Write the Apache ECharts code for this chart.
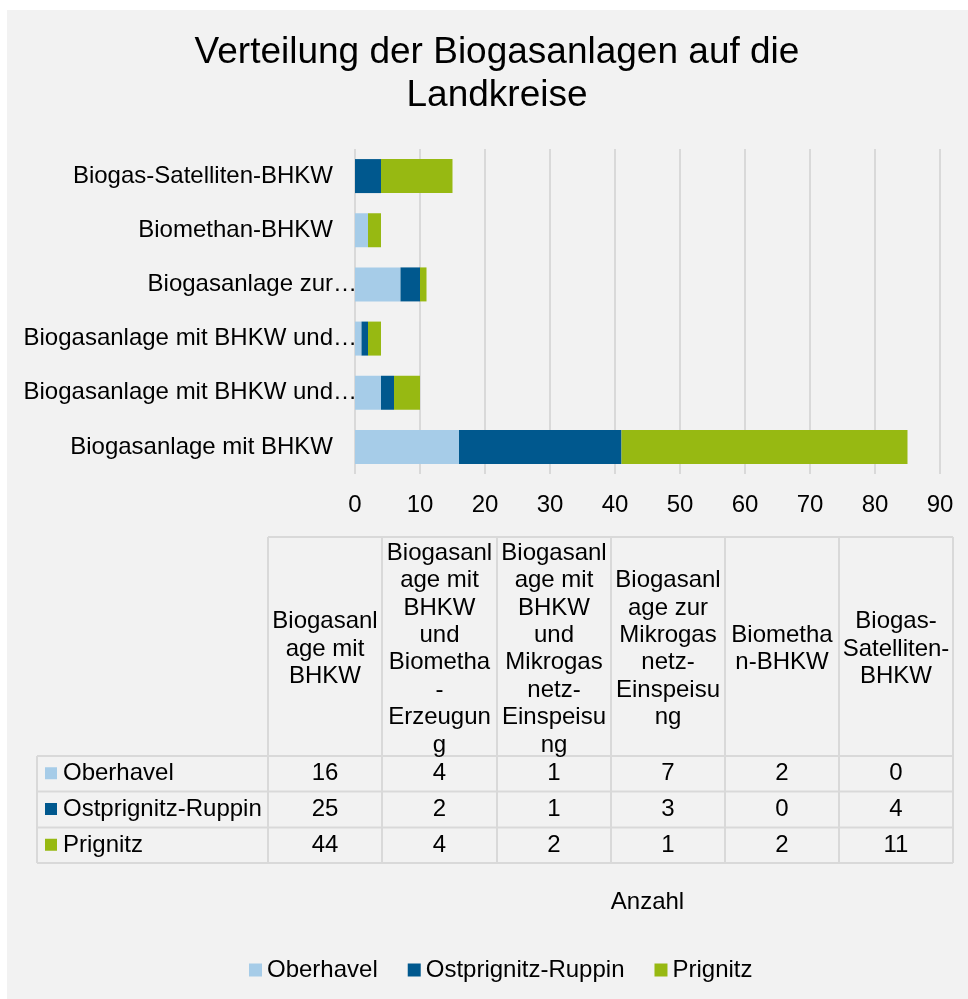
<!DOCTYPE html>
<html>
<head>
<meta charset="utf-8">
<script src="https://cdn.jsdelivr.net/npm/echarts@6/dist/echarts.min.js"></script>
<style>
  html, body { margin: 0; padding: 0; background: #fff; }
  #bg { position: absolute; left: 7px; top: 10px; width: 961px; height: 989px; background: #f2f2f2; }
  #chartsDiv { position: absolute; left: 0; top: 0; width: 968px; height: 999px; }
</style>
</head>
<body>
<div id="bg"></div>
<div id="chartsDiv"></div>
<script>
// daten (von unten nach oben wie im Diagramm)
var categories = ['Biogasanlage mit BHKW', 'Biogasanlage mit BHKW und Biomethan-Erzeugung',
  'Biogasanlage mit BHKW und Mikrogasnetz-Einspeisung', 'Biogasanlage zur Mikrogasnetz-Einspeisung',
  'Biomethan-BHKW', 'Biogas-Satelliten-BHKW'];
// gekürzte Beschriftung wie in Excel (true = mit Auslassungszeichen)
var axisLabels = ['Biogasanlage mit BHKW', 'Biogasanlage mit BHKW und', 'Biogasanlage mit BHKW und',
  'Biogasanlage zur', 'Biomethan-BHKW', 'Biogas-Satelliten-BHKW'];
var axisCut = [false, true, true, true, false, false];
var tableHeads = [
  ['Biogasanl', 'age mit', 'BHKW'],
  ['Biogasanl', 'age mit', 'BHKW', 'und', 'Biometha', '-', 'Erzeugun', 'g'],
  ['Biogasanl', 'age mit', 'BHKW', 'und', 'Mikrogas', 'netz-', 'Einspeisu', 'ng'],
  ['Biogasanl', 'age zur', 'Mikrogas', 'netz-', 'Einspeisu', 'ng'],
  ['Biometha', 'n-BHKW'],
  ['Biogas-', 'Satelliten-', 'BHKW']
];
var seriesNames = ['Oberhavel', 'Ostprignitz-Ruppin', 'Prignitz'];
var oberhavel = [16, 4, 1, 7, 2, 0];
var ostprignitz = [25, 2, 1, 3, 0, 4];
var prignitz = [44, 4, 2, 1, 2, 11];
var colors = ['#a6cce8', '#00588e', '#97b912'];

var FONT = "'Liberation Sans', Arial, sans-serif";
var realChart = echarts.init(document.getElementById('chartsDiv'));

// tabelle unter dem diagramm
var colX = [268, 382, 497, 611, 725, 839, 953];
var rowY = [756, 791.5, 827.5, 863];
var headTop = 537;
var lineColor = '#d9d9d9';
var graphics = [];

graphics.push({
  type: 'text',
  style: {
    text: 'Verteilung der Biogasanlagen auf die\nLandkreise',
    x: 497, y: 74, align: 'center', verticalAlign: 'middle',
    font: '37px ' + FONT, lineHeight: 43, fill: '#000'
  }
});

// waagrechte linien
graphics.push({ type: 'line', shape: { x1: colX[0], y1: headTop, x2: colX[6], y2: headTop }, style: { stroke: lineColor, lineWidth: 2 } });
rowY.forEach(function (y) {
  graphics.push({ type: 'line', shape: { x1: 37, y1: y, x2: colX[6], y2: y }, style: { stroke: lineColor, lineWidth: 2 } });
});
// senkrechte linien
graphics.push({ type: 'line', shape: { x1: 37, y1: rowY[0], x2: 37, y2: rowY[3] }, style: { stroke: lineColor, lineWidth: 2 } });
colX.forEach(function (x) {
  graphics.push({ type: 'line', shape: { x1: x, y1: headTop, x2: x, y2: rowY[3] }, style: { stroke: lineColor, lineWidth: 2 } });
});

tableHeads.forEach(function (lines, i) {
  graphics.push({
    type: 'text',
    style: {
      text: lines.join('\n'), x: (colX[i] + colX[i + 1]) / 2, y: 649,
      align: 'center', verticalAlign: 'middle', font: '24px ' + FONT, lineHeight: 27.4, fill: '#000'
    }
  });
});

[oberhavel, ostprignitz, prignitz].forEach(function (vals, r) {
  var cy = (rowY[r] + rowY[r + 1]) / 2;
  graphics.push({ type: 'rect', shape: { x: 45, y: cy - 6.5, width: 12, height: 12 }, style: { fill: colors[r] } });
  graphics.push({
    type: 'text',
    style: { text: seriesNames[r], x: 63, y: cy, verticalAlign: 'middle', font: '24px ' + FONT, fill: '#000' }
  });
  vals.forEach(function (v, i) {
    graphics.push({
      type: 'text',
      style: {
        text: String(v), x: (colX[i] + colX[i + 1]) / 2, y: cy,
        align: 'center', verticalAlign: 'middle', font: '24px ' + FONT, fill: '#000'
      }
    });
  });
});

var option = {
  animation: false,
  textStyle: { fontFamily: FONT },
  color: colors,
  grid: {
    left: 355,
    right: 28,
    top: 149,
    bottom: 525,
    containLabel: false
  },
  legend: {
    left: 249,
    top: 958,
    padding: 0,
    itemWidth: 13,
    itemHeight: 13,
    itemGap: 30,
    icon: 'rect',
    textStyle: { color: '#000', fontSize: 24, fontFamily: FONT },
    data: seriesNames
  },
  xAxis: {
    type: 'value',
    min: 0,
    max: 90,
    interval: 10,
    name: 'Anzahl',
    nameLocation: 'middle',
    nameGap: 416,
    nameTextStyle: { color: '#000', fontSize: 24, fontFamily: FONT, verticalAlign: 'top' },
    axisLine: { show: false },
    axisTick: { show: false },
    axisLabel: { color: '#000', fontSize: 24, margin: 19, fontFamily: FONT },
    splitLine: { show: true, lineStyle: { color: lineColor, width: 2 } }
  },
  yAxis: {
    type: 'category',
    data: categories,
    axisLine: { show: false },
    axisTick: { show: false },
    axisLabel: {
      color: '#000', fontSize: 24, margin: -2, fontFamily: FONT,
      // Auslassungszeichen ragt wie in Excel über den rechten Rand hinaus
      formatter: function (value, index) {
        return axisLabels[index] + (axisCut[index] ? '{e|…}' : '{s| }');
      },
      rich: {
        e: { width: 24, align: 'left', color: '#000', fontSize: 24, fontFamily: FONT },
        s: { width: 24, fontSize: 24, fontFamily: FONT }
      }
    }
  },
  series: [
    { name: seriesNames[0], type: 'bar', stack: 'total', barWidth: 34, data: oberhavel },
    { name: seriesNames[1], type: 'bar', stack: 'total', barWidth: 34, data: ostprignitz },
    { name: seriesNames[2], type: 'bar', stack: 'total', barWidth: 34, data: prignitz }
  ],
  graphic: graphics
};

realChart.setOption(option);
</script>
</body>
</html>
